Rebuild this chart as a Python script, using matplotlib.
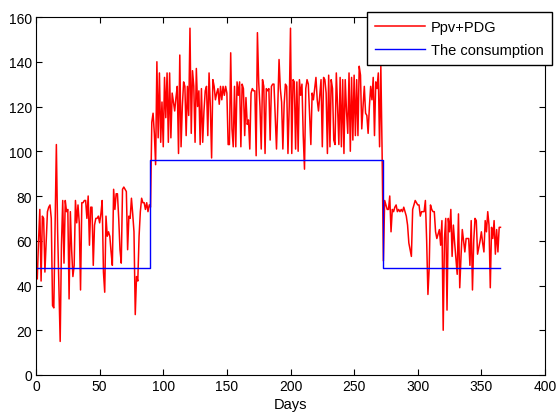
import numpy as np
import matplotlib
matplotlib.use("Agg")
import matplotlib.pyplot as plt

# Ppv+PDG daily values (days 1..365)
ppv_seg1 = [43, 60, 74, 42, 71, 70, 46, 60, 73, 75,
            76, 70, 31, 30, 66, 103, 64, 40, 15, 58,
            78, 50, 78, 73, 74, 34, 73, 56, 44, 49,
            78, 68, 76, 68, 38, 77, 77, 78, 78, 70,
            80, 58, 75, 75, 49, 67, 70, 70, 71, 68,
            72, 78, 46, 37, 71, 62, 64, 62, 55, 49,
            83, 74, 81, 81, 70, 56, 50, 83, 84, 83,
            82, 56, 71, 70, 79, 72, 64, 27, 44, 42,
            62, 73, 79, 77, 77, 74, 77, 73, 76, 75]
ppv_seg2 = [113, 117, 108, 94, 140, 106, 135, 104, 122, 102,
            133, 115, 135, 104, 135, 106, 126, 122, 118, 124,
            129, 99, 143, 102, 120, 131, 129, 107, 129, 116,
            155, 108, 136, 129, 104, 137, 120, 127, 103, 128,
            104, 118, 127, 129, 107, 135, 120, 97, 132, 129,
            123, 126, 128, 121, 129, 123, 129, 125, 129, 126,
            103, 103, 144, 110, 102, 129, 102, 131, 125, 131,
            102, 130, 128, 107, 124, 112, 114, 101, 126, 128,
            127, 127, 98, 153, 131, 120, 101, 132, 129, 99, 128]
ppv_seg3 = [127, 128, 105, 129, 130, 130, 115, 101, 120, 141,
            128, 122, 101, 121, 130, 129, 99, 120, 155, 99,
            132, 131, 101, 131, 100, 132, 125, 130, 107, 92,
            128, 132, 130, 116, 103, 126, 123, 128, 133, 123,
            118, 125, 132, 102, 133, 132, 126, 99, 134, 102,
            132, 128, 105, 103, 135, 120, 103, 133, 102, 132,
            99, 132, 118, 108, 135, 100, 133, 105, 134, 107,
            132, 107, 138, 134, 110, 120, 129, 117, 116, 108,
            120, 129, 123, 133, 107, 131, 128, 135, 102, 138, 99]
ppv_seg4 = [51, 78, 76, 74, 74, 80, 64, 74, 73, 75,
            76, 73, 74, 73, 74, 73, 75, 73, 71, 67,
            59, 56, 53, 74, 76, 78, 77, 76, 76, 71,
            73, 73, 73, 78, 60, 36, 48, 76, 74, 73,
            73, 64, 61, 63, 65, 58, 69, 20, 61, 70,
            29, 70, 64, 74, 53, 67, 59, 52, 45, 72,
            39, 53, 65, 60, 55, 61, 61, 61, 49, 69,
            38, 60, 70, 69, 54, 57, 60, 64, 59, 55,
            69, 64, 73, 67, 39, 66, 61, 69, 54, 65,
            55, 66, 66]

# Consumption step profile (breakpoints)
cons_days = [1, 89.6, 89.6, 272.7, 272.7, 365]
cons_vals = [48, 48, 96, 96, 48, 48]

x_ticks = [0, 50, 100, 150, 200, 250, 300, 350, 400]
y_ticks = [0, 20, 40, 60, 80, 100, 120, 140, 160]

ppv = ppv_seg1 + ppv_seg2 + ppv_seg3 + ppv_seg4
days = np.arange(1, len(ppv) + 1)

plt.rcParams['font.family'] = ['Liberation Sans', 'DejaVu Sans']

fig = plt.figure(figsize=(5.56, 4.14), dpi=100)
ax = fig.add_axes([36 / 556, 1 - 376 / 414, (545 - 36) / 556, (376 - 18) / 414])

ax.plot(days, ppv, color='#ff0000', lw=1.1, label='Ppv+PDG')
ax.plot(cons_days, cons_vals, color='#0000ff', lw=1.0, label='The consumption')

ax.set_xlim(0, 400)
ax.set_ylim(0, 160)
ax.set_xticks(x_ticks)
ax.set_yticks(y_ticks)
ax.tick_params(direction='in', length=4, width=0.8, top=True, right=True,
               labelsize=10, pad=3, colors='black')
for s in ax.spines.values():
    s.set_linewidth(0.8)
ax.set_xlabel('Days', fontsize=10.5, labelpad=3)

leg = ax.legend(loc='upper right', bbox_to_anchor=(552 / 556, 1 - 13 / 414),
                bbox_transform=fig.transFigure, borderaxespad=0,
                fontsize=10.5, handlelength=3.4, fancybox=False,
                framealpha=1, edgecolor='black', borderpad=0.55,
                labelspacing=0.6, handletextpad=0.45)
leg.get_frame().set_linewidth(1.0)

fig.savefig('out.png', dpi=100)
